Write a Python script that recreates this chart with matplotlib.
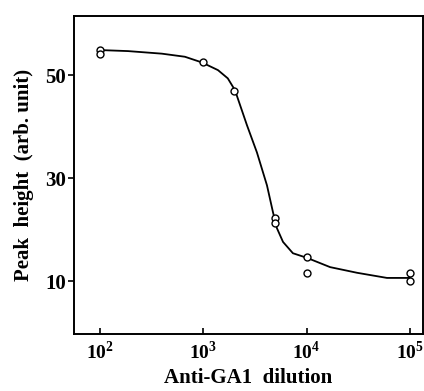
import matplotlib

matplotlib.use("Agg")
import matplotlib.pyplot as plt
from matplotlib.ticker import FixedLocator, FixedFormatter, NullLocator

# measured points (dilution, peak height)
dilution = [100, 100, 1000, 2000, 5000, 5000, 10000, 10000, 100000, 100000]
peak = [55.0, 54.2, 52.5, 46.9, 22.2, 21.2, 14.7, 11.6, 11.6, 10.0]

# hand-drawn curve
curve_x = [100, 187, 398, 665, 970, 1390, 1730, 2030, 2650, 3310, 4140,
           4730, 5160, 5920, 7380, 10100, 16900, 30800, 60000, 100000]
curve_y = [54.9, 54.7, 54.2, 53.6, 52.5, 51.0, 49.4, 47.1, 40.3, 35.0, 28.6,
           23.4, 20.3, 17.6, 15.4, 14.5, 12.7, 11.6, 10.6, 10.6]

xticks = [1e2, 1e3, 1e4, 1e5]
xticklabels = ["10$^{\\mathbf{2}}$", "10$^{\\mathbf{3}}$", "10$^{\\mathbf{4}}$", "10$^{\\mathbf{5}}$"]
yticks = [10, 30, 50]


def main():
    plt.rcParams.update(
        {
            "font.family": ["Liberation Serif", "DejaVu Serif"],
            "font.weight": "bold",
            "axes.labelweight": "bold",
            "mathtext.fontset": "custom",
            "mathtext.rm": "Liberation Serif",
            "mathtext.bf": "Liberation Serif:bold",
            "font.size": 12,
        }
    )

    fig = plt.figure(figsize=(4.24, 3.91), dpi=100)
    ax = fig.add_axes([0.1745, 0.1458, 0.823, 0.813])

    ax.plot(curve_x, curve_y, color="black", linewidth=1.3, zorder=2)
    ax.plot(dilution, peak, linestyle="none", marker="o", markersize=5,
            markerfacecolor="white", markeredgecolor="black", markeredgewidth=1.0, zorder=3)

    ax.set_xscale("log")
    ax.set_xlim(10 ** 1.75, 10 ** 5.126)
    ax.set_ylim(-0.3, 61.5)

    ax.xaxis.set_major_locator(FixedLocator(xticks))
    ax.xaxis.set_major_formatter(FixedFormatter(xticklabels))
    ax.xaxis.set_minor_locator(NullLocator())
    ax.set_yticks(yticks)

    ax.tick_params(axis="x", direction="in", length=4, width=1.2, labelsize=14, pad=5)
    ax.tick_params(axis="y", direction="out", length=4, width=1.2, labelsize=15, pad=2)
    for s in ax.spines.values():
        s.set_linewidth(1.4)

    ax.set_xlabel("Anti-GA1  dilution", fontsize=15, labelpad=3)
    ax.set_ylabel("Peak  height  (arb. unit)", fontsize=15, labelpad=8)

    fig.savefig("out.png", dpi=100)
    plt.close(fig)


if __name__ == "__main__":
    main()
